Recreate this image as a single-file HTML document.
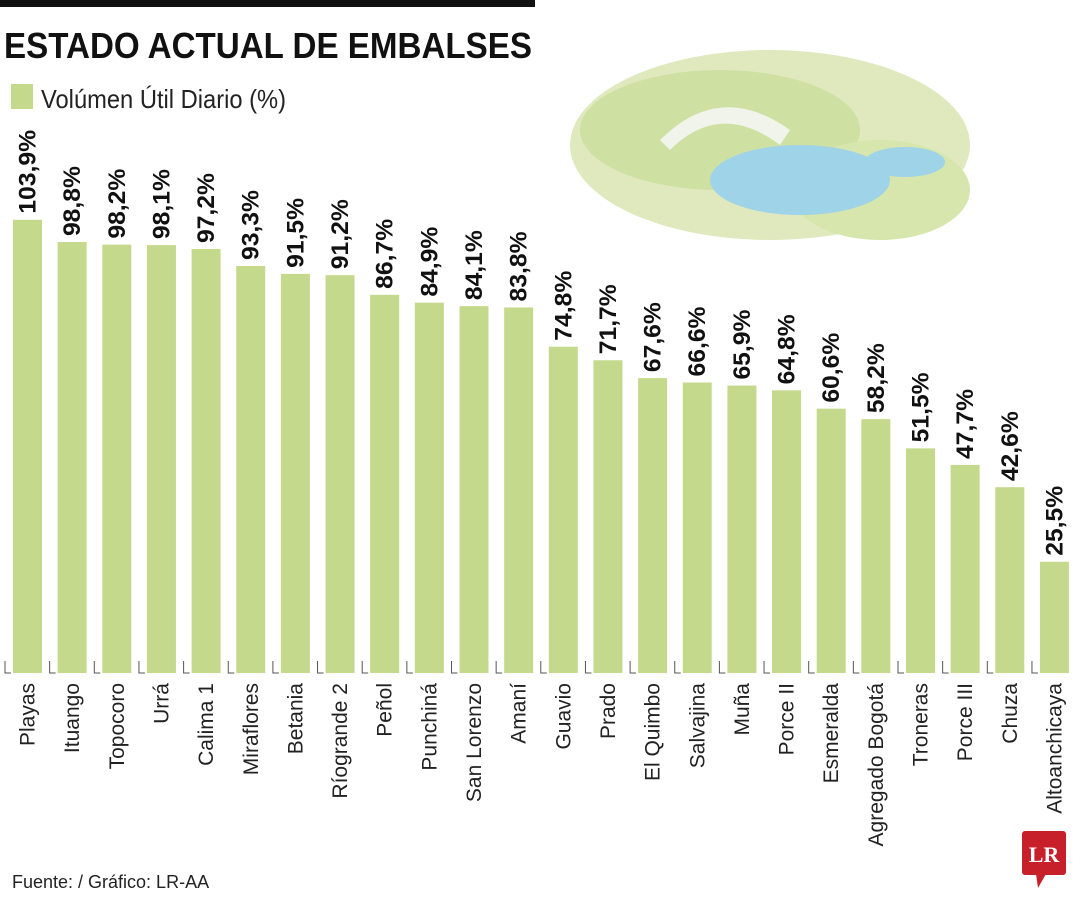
<!DOCTYPE html>
<html><head><meta charset="utf-8"><style>
body{margin:0;background:#fff;width:1080px;height:900px;overflow:hidden;font-family:"Liberation Sans",sans-serif}
</style></head><body>
<svg width="1080" height="900" xmlns="http://www.w3.org/2000/svg">
<rect x="0" y="0" width="535" height="7" fill="#111"/>
<text x="4" y="58" font-size="36" font-weight="bold" fill="#111" textLength="528" lengthAdjust="spacingAndGlyphs">ESTADO ACTUAL DE EMBALSES</text>
<rect x="11" y="84" width="22" height="25" fill="#c5d98c"/>
<text x="41" y="108" font-size="26" fill="#222" textLength="245" lengthAdjust="spacingAndGlyphs">Volúmen Útil Diario (%)</text>
<g>
<ellipse cx="770" cy="145" rx="200" ry="95" fill="#dfe9bd"/>
<ellipse cx="720" cy="130" rx="140" ry="60" fill="#cfe0a3"/>
<ellipse cx="880" cy="190" rx="90" ry="50" fill="#d6e6ac"/>
<ellipse cx="800" cy="180" rx="90" ry="35" fill="#9fd3e8"/>
<ellipse cx="905" cy="162" rx="40" ry="15" fill="#9fd3e8"/>
<path d="M660 140 Q720 80 790 130 L780 145 Q720 100 670 150 Z" fill="#f0f4ea"/>
</g>
<g id="bars"></g>
<text x="12" y="888" font-size="18" fill="#222">Fuente:  / Gráfico: LR-AA</text>
<g>
<rect x="1022" y="831" width="44" height="44" rx="3" fill="#c8202a"/>
<polygon points="1036,874 1046,874 1038,888" fill="#c8202a"/>
<text x="1044" y="862" font-size="22" font-weight="bold" font-family="Liberation Serif,serif" fill="#fff" text-anchor="middle">LR</text>
</g>
</svg>
<script>
const categories=["Playas","Ituango","Topocoro","Urrá","Calima 1","Miraflores","Betania","Ríogrande 2","Peñol","Punchiná","San Lorenzo","Amaní","Guavio","Prado","El Quimbo","Salvajina","Muña","Porce II","Esmeralda","Agregado Bogotá","Troneras","Porce III","Chuza","Altoanchicaya"];
const values=[103.9,98.8,98.2,98.1,97.2,93.3,91.5,91.2,86.7,84.9,84.1,83.8,74.8,71.7,67.6,66.6,65.9,64.8,60.6,58.2,51.5,47.7,42.6,25.5];
const labels=["103,9%","98,8%","98,2%","98,1%","97,2%","93,3%","91,5%","91,2%","86,7%","84,9%","84,1%","83,8%","74,8%","71,7%","67,6%","66,6%","65,9%","64,8%","60,6%","58,2%","51,5%","47,7%","42,6%","25,5%"];
const NS="http://www.w3.org/2000/svg";
const g=document.getElementById('bars');
const base=673, k=4.362, x0=13, step=44.65, bw=29;
const y=v=>base-v*k;
const xs=i=>x0+i*step;
function mk(t,a){const e=document.createElementNS(NS,t);for(const n in a)e.setAttribute(n,a[n]);g.appendChild(e);return e;}
for(let i=0;i<categories.length;i++){
  const tx=xs(i)-8;
  const t=mk('path',{d:`M${tx} ${base-12} V${base} H${tx+6}`,stroke:'#555','stroke-width':1,fill:'none'});
  
  
}
categories.forEach((c,i)=>{
  const r=mk('rect',{x:xs(i),y:y(values[i]),width:bw,height:values[i]*k,fill:'#c5d98c'});
  
  
  const cx=xs(i)+bw/2+8;
  const vt=mk('text',{x:cx,y:y(values[i])-6,transform:`rotate(-90 ${cx} ${y(values[i])-6})`,'font-size':24,'font-weight':'bold',fill:'#111'});
  vt.textContent=labels[i];
  vt.setAttribute('textLength',labels[i].length*14);
  vt.setAttribute('lengthAdjust','spacingAndGlyphs');
  
  
  const lx=xs(i)+bw/2+7;
  const lt=mk('text',{x:lx,y:683,transform:`rotate(-90 ${lx} 683)`,'font-size':21,fill:'#222','text-anchor':'end'});
  lt.textContent=c;
  
  
});
</script>
</body></html>
